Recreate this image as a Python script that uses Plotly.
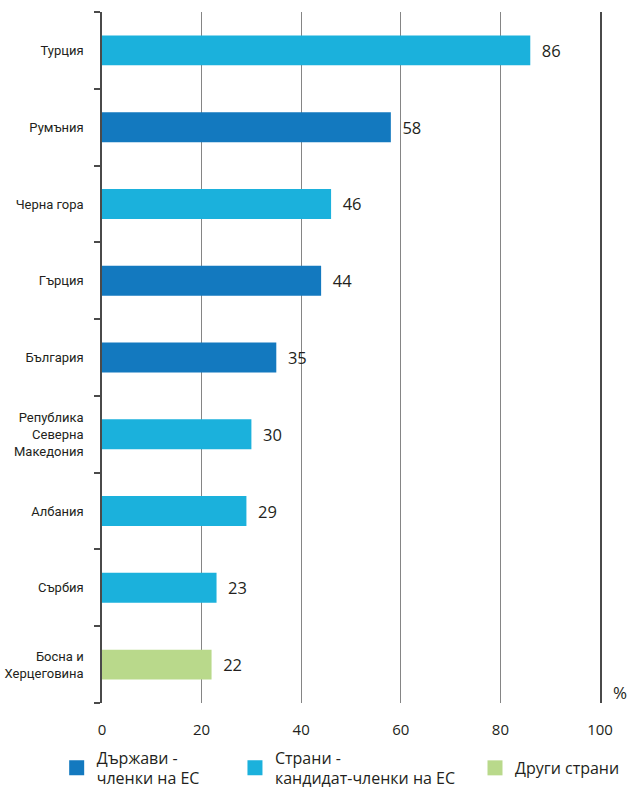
import plotly.graph_objects as go

countries = ["Турция", "Румъния", "Черна гора", "Гърция", "България",
             "Република<br>Северна<br>Македония", "Албания", "Сърбия", "Босна и<br>Херцеговина"]
values = [86, 58, 46, 44, 35, 30, 29, 23, 22]
groups = ["cand", "eu", "cand", "eu", "eu", "cand", "cand", "cand", "other"]

group_order = ["eu", "cand", "other"]
group_names = {
    "eu": "Държави -<br>членки на ЕС",
    "cand": "Страни -<br>кандидат-членки на ЕС",
    "other": "Други страни",
}
group_colors = {"eu": "#1379bf", "cand": "#1bb1dc", "other": "#b9d98b"}
legend_ids = {"eu": "legend", "cand": "legend2", "other": "legend3"}

fig = go.Figure()
for g in group_order:
    ys = [c for c, gg in zip(countries, groups) if gg == g]
    xs = [v for v, gg in zip(values, groups) if gg == g]
    fig.add_trace(go.Bar(
        x=xs, y=ys, orientation="h", name=group_names[g],
        marker=dict(color=group_colors[g], line=dict(width=0)),
        width=0.39, showlegend=False,
        text=xs, texttemplate="  %{x}", textposition="outside",
        textfont=dict(size=16.5, color="#231f20", family="Open Sans, sans-serif"),
        cliponaxis=False,
    ))
    # legend-only entry with a bigger square swatch
    fig.add_trace(go.Scatter(
        x=[None], y=[None], mode="markers", name=group_names[g],
        marker=dict(symbol="square", size=15, color=group_colors[g]),
        legend=legend_ids[g], showlegend=True,
    ))

leg_font = dict(size=16, family="Open Sans, sans-serif", color="#231f20")
leg_y = -0.094

fig.update_layout(
    width=637, height=808,
    paper_bgcolor="white", plot_bgcolor="white",
    margin=dict(l=102, r=30, t=12, b=85),
    barmode="relative",
    font=dict(family="Roboto, sans-serif", color="#231f20"),
    xaxis=dict(
        range=[0, 100], tickvals=[0, 20, 40, 60, 80, 100],
        showgrid=True, gridcolor="#858585", gridwidth=1.4,
        zeroline=False, showline=False, ticks="",
        tickfont=dict(size=15, family="Open Sans, sans-serif"),
        ticklabelstandoff=16, automargin=False,
    ),
    yaxis=dict(
        categoryorder="array", categoryarray=countries[::-1],
        autorange=False, range=[-0.5, 8.5],
        showline=True, linecolor="#4a4a4a", linewidth=1.5, mirror=True,
        ticks="outside", tickson="boundaries", ticklen=6, tickcolor="#4a4a4a", tickwidth=1.5,
        tickfont=dict(size=13),
        ticklabelstandoff=14, automargin=False,
        showgrid=False,
    ),
    legend=dict(x=-0.091, y=leg_y, xanchor="left", yanchor="middle", font=leg_font, itemwidth=30),
    legend2=dict(x=0.267, y=leg_y, xanchor="left", yanchor="middle", font=leg_font, itemwidth=30),
    legend3=dict(x=0.749, y=leg_y, xanchor="left", yanchor="middle", font=leg_font, itemwidth=30),
    showlegend=True,
)
fig.add_annotation(text="%", x=1.0, y=0.0, xref="paper", yref="paper",
                   xanchor="left", yanchor="bottom", xshift=11, yshift=-3,
                   showarrow=False, font=dict(size=17, family="Open Sans, sans-serif"))

fig.write_html("out.html", config={"displayModeBar": False},
               post_script="document.body.style.margin='0';")
